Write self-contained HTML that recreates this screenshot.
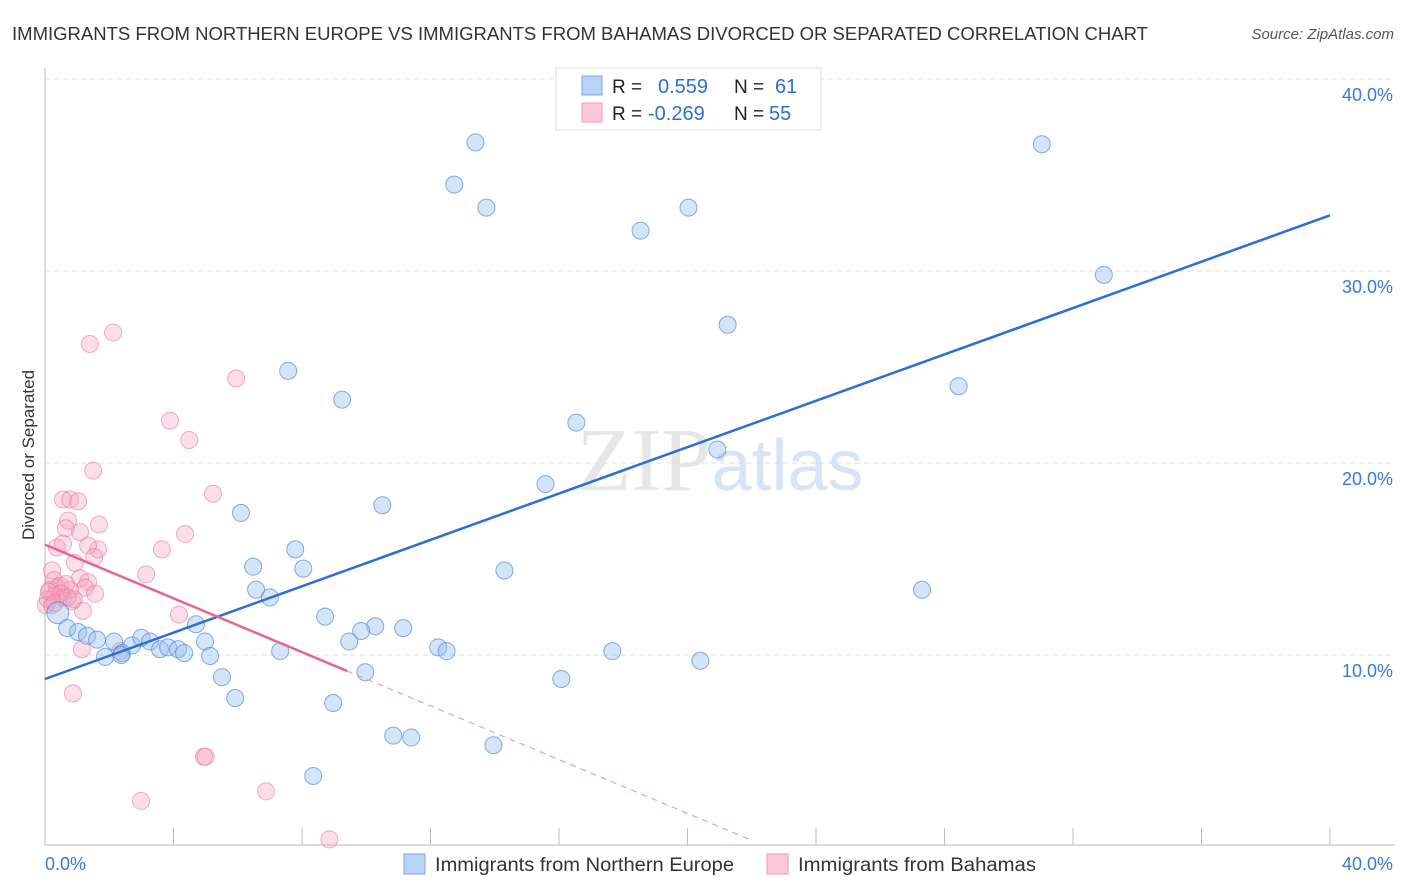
<!DOCTYPE html>
<html><head><meta charset="utf-8"><style>
body{margin:0;background:#fff;font-family:"Liberation Sans",sans-serif;}
svg{display:block}
</style></head><body>
<svg id="chart" width="1406" height="892">
<text x="12" y="40" font-size="18" fill="#333" textLength="1136" lengthAdjust="spacingAndGlyphs">IMMIGRANTS FROM NORTHERN EUROPE VS IMMIGRANTS FROM BAHAMAS DIVORCED OR SEPARATED CORRELATION CHART</text>
<text x="1394" y="39" font-size="15" fill="#555" font-style="italic" text-anchor="end">Source: ZipAtlas.com</text>
<text x="34" y="455" font-size="17" fill="#333" text-anchor="middle" transform="rotate(-90 34 455)">Divorced or Separated</text>
<text x="720" y="490" font-size="90" fill="#e6e6e6" text-anchor="middle" font-family="Liberation Serif,serif">ZIP<tspan fill="#d6e4f5" font-family="Liberation Sans,sans-serif" font-size="72">atlas</tspan></text>
<g id="grid"></g>
<g id="marks"></g>
<g>
<rect x="556" y="68" width="265" height="62" fill="#fff" stroke="#ddd"/>
<rect x="582" y="76" width="20" height="19" fill="#b8d3f5" stroke="#7aa8e6"/>
<rect x="582" y="103" width="20" height="19" fill="#fbc8d8" stroke="#ef9ab6"/>
<text x="612" y="93" font-size="19" fill="#222">R =</text><text x="658" y="93" font-size="20" fill="#2e6fd1">0.559</text>
<text x="734" y="93" font-size="19" fill="#222">N =</text><text x="775" y="93" font-size="20" fill="#2e6fd1">61</text>
<text x="612" y="120" font-size="19" fill="#222">R =</text><text x="648" y="120" font-size="20" fill="#2e6fd1">-0.269</text>
<text x="734" y="120" font-size="19" fill="#222">N =</text><text x="769" y="120" font-size="20" fill="#2e6fd1">55</text>
</g>
<g>
<rect x="404" y="854" width="21" height="20" fill="#b8d3f5" stroke="#7aa8e6"/>
<text x="435" y="871" font-size="19" fill="#333" textLength="299" lengthAdjust="spacingAndGlyphs">Immigrants from Northern Europe</text>
<rect x="767" y="854" width="21" height="20" fill="#fbc8d8" stroke="#ef9ab6"/>
<text x="798" y="871" font-size="19" fill="#333" textLength="238" lengthAdjust="spacingAndGlyphs">Immigrants from Bahamas</text>
</g>
<text x="45" y="870" font-size="18" fill="#3a78d6">0.0%</text>
<text x="1393" y="870" font-size="18" fill="#3a78d6" text-anchor="end">40.0%</text>
</svg>
<script>
const yTicks=[10,20,30,40];
const yTickLabels=["10.0%","20.0%","30.0%","40.0%"];
const xTicks=[0,4,8,12,16,20,24,28,32,36,40];
const blueX=[13.4,12.74,13.74,18.54,20.03,31.03,32.96,21.25,28.44,7.57,9.25,16.54,20.93,15.58,10.5,6.1,7.79,6.48,8.04,14.3,6.57,7.0,27.3,8.72,4.7,10.28,11.15,9.84,9.47,12.24,12.5,17.66,7.32,4.98,5.14,20.4,9.97,5.51,16.07,5.92,8.97,10.84,11.4,13.96,8.35,0.4,0.69,1.03,1.31,1.62,1.87,2.15,2.4,2.71,3.0,3.27,3.58,3.83,4.14,4.33,2.37];
const blueY=[36.7,34.5,33.3,32.1,33.3,36.6,29.8,27.2,24.0,24.8,23.3,22.1,20.7,18.9,17.8,17.4,15.5,14.6,14.5,14.4,13.4,13.0,13.4,12.0,11.6,11.5,11.4,11.25,10.7,10.4,10.2,10.2,10.2,10.7,9.95,9.7,9.1,8.85,8.75,7.76,7.5,5.8,5.7,5.3,3.7,12.2,11.4,11.2,11.0,10.8,9.9,10.7,10.1,10.5,10.9,10.7,10.3,10.4,10.3,10.1,10.0];
const pinkX=[2.12,1.4,5.95,3.89,4.49,1.5,5.23,0.56,0.78,1.03,1.68,0.72,4.36,1.09,0.65,3.64,1.65,0.37,0.56,1.34,0.93,1.53,0.22,3.15,1.09,0.28,1.34,1.25,0.47,0.16,0.78,0.31,0.09,0.56,0.84,1.18,0.03,4.17,1.15,2.34,0.87,4.95,5.0,2.99,6.88,8.85,0.37,0.65,0.22,1.56,0.12,0.5,0.9,0.3,0.7];
const pinkY=[26.8,26.2,24.4,22.2,21.2,19.6,18.4,18.1,18.1,18.0,16.8,17.0,16.3,16.4,16.6,15.5,15.5,15.6,15.8,15.7,14.8,15.1,14.4,14.2,14.0,13.9,13.8,13.5,13.6,13.4,13.4,13.1,12.9,13.0,12.8,12.3,12.6,12.1,10.3,10.2,8.0,4.7,4.7,2.4,2.9,0.4,13.5,13.7,12.6,13.2,13.3,13.2,12.9,12.7,13.0];
const blueTrend=[8.75,32.9];
const pinkTrend=[15.75,-0.7];
const pinkSolidEnd=9.4, pinkDashEnd=22.0;

const X=v=>45+v*1285/40, Y=v=>847-v*19.2;
const NS="http://www.w3.org/2000/svg";
const grid=document.getElementById('grid'), marks=document.getElementById('marks');
function mk(tag,attrs,parent){const e=document.createElementNS(NS,tag);for(const k in attrs)e.setAttribute(k,attrs[k]);parent.appendChild(e);return e;}
yTicks.forEach((t,i)=>{
 const l=mk('line',{x1:45,x2:1395,y1:Y(t),y2:Y(t),stroke:'#ddd','stroke-dasharray':'5,4'},grid);
 
 
 const tx=mk('text',{x:1393,y:Y(t)+22,'font-size':18,fill:'#3a78d6','text-anchor':'end'},grid);
 tx.textContent=yTickLabels[i];
 
 
});
const ax=mk('line',{x1:45,x2:45,y1:68,y2:845,stroke:'#bbb'},grid);


const bx=mk('line',{x1:45,x2:1395,y1:845,y2:845,stroke:'#bbb'},grid);


xTicks.forEach(t=>{
 const l=mk('line',{x1:X(t),x2:X(t),y1:828,y2:845,stroke:'#bbb'},grid);
 
 
});
pinkX.forEach((x,i)=>{
 const c=mk('circle',{cx:X(x),cy:Y(pinkY[i]),r:8.5,fill:'rgba(246,160,188,0.35)',stroke:'rgba(232,120,158,0.6)','stroke-width':1},marks);
 
 
});
blueX.forEach((x,i)=>{
 const c=mk('circle',{cx:X(x),cy:Y(blueY[i]),r:(i==45?11:8.5),fill:'rgba(150,190,240,0.4)',stroke:'rgba(70,130,210,0.65)','stroke-width':1},marks);
 
 
});
const bl=mk('line',{x1:X(0),y1:Y(blueTrend[0]),x2:X(40),y2:Y(blueTrend[1]),stroke:'#2a6fd6','stroke-width':2.5},marks);


const pf=x=>pinkTrend[0]+pinkTrend[1]*x;
const pl=mk('line',{x1:X(0),y1:Y(pf(0)),x2:X(pinkSolidEnd),y2:Y(pf(pinkSolidEnd)),stroke:'#e8648f','stroke-width':2.5},marks);


const pd=mk('line',{x1:X(pinkSolidEnd),y1:Y(pf(pinkSolidEnd)),x2:X(pinkDashEnd),y2:Y(pf(pinkDashEnd)),stroke:'#ef9ab6','stroke-width':1.2,'stroke-dasharray':'6,5'},marks);


</script>
</body></html>
